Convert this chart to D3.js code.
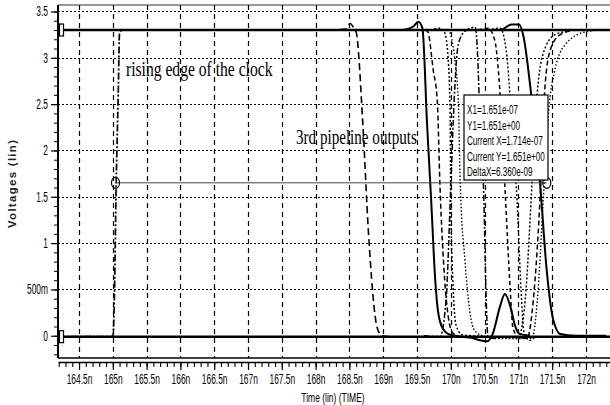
<!DOCTYPE html>
<html><head><meta charset="utf-8">
<script src="https://cdn.jsdelivr.net/npm/d3@7"></script>
<style>body{margin:0;background:#fff}svg{display:block}</style>
</head><body><svg id="c" width="610" height="405"></svg>
<script>
// ---------- data ----------
const xTicks = [164.5,165,165.5,166,166.5,167,167.5,168,168.5,169,169.5,170,170.5,171,171.5,172];
const xTickLabels = ["164.5n","165n","165.5n","166n","166.5n","167n","167.5n","168n","168.5n","169n","169.5n","170n","170.5n","171n","171.5n","172n"];
const yTicks = [0,0.5,1,1.5,2,2.5,3,3.5];
const yTickLabels = ["0","500m","1","1.5","2","2.5","3","3.5"];

// waveforms: [time (ns), voltage (V)]
const highLine = [[164.19,3.3],[172.4,3.3]];
const lowLine  = [[164.19,-0.01],[172.4,-0.01]];
const clock    = [[164.19,-0.01],[165.0,-0.01],[165.02,0.3],[165.05,1.65],[165.08,2.6],[165.1,3.27],[165.14,3.3]];
const outA = [[168.2,3.3],[168.45,3.31],[168.51,3.37],[168.56,3.33],[168.6,3.28],[168.7,2.27],[168.78,1.14],[168.91,0.09],[168.98,0.0],[169.1,-0.01]];
const outB = [[169.3,3.3],[169.45,3.34],[169.52,3.39],[169.58,3.32],[169.65,2.27],[169.71,1.46],[169.77,0.6],[169.81,0.27],[169.88,0.08],[169.99,0.01],[170.28,-0.02],[170.54,-0.06],[170.62,0.02],[170.73,0.32],[170.8,0.45],[170.88,0.32],[170.95,0.11],[171.02,0.02],[171.17,0.0]];
const outC1 = [[169.5,3.3],[169.62,3.3],[169.66,3.28],[169.74,2.87],[169.8,2.54],[169.84,1.62],[169.91,0.6],[169.96,0.22],[170.03,0.03],[170.14,-0.01],[171.0,-0.02],[171.13,-0.03],[171.22,0.38],[171.33,1.62],[171.39,2.65],[171.47,3.08],[171.62,3.25],[171.84,3.3]];
const outC2 = [[169.7,3.3],[169.84,3.32],[169.91,3.27],[169.96,3.0],[169.99,2.4],[170.0,1.46],[170.03,0.6],[170.08,0.11],[170.17,0.01],[170.6,-0.01],[171.0,-0.01],[171.1,0.38],[171.2,1.62],[171.27,2.54],[171.36,3.03],[171.54,3.25],[171.76,3.29]];
const outC3 = [[169.6,0.0],[169.84,-0.01],[169.93,0.38],[170.0,1.62],[170.05,2.54],[170.11,3.14],[170.2,3.28],[170.36,3.33],[170.4,2.98],[170.43,2.33],[170.49,1.46],[170.52,0.49],[170.55,-0.01],[170.65,-0.03],[170.8,-0.01]];
const outC4 = [[169.8,3.3],[169.96,3.3],[170.06,2.98],[170.11,2.54],[170.14,1.65],[170.21,0.81],[170.28,0.27],[170.36,0.05],[170.51,-0.01],[170.73,-0.03],[171.2,-0.03],[171.28,0.38],[171.38,1.62],[171.45,2.44],[171.54,2.87],[171.69,3.14],[171.99,3.28],[172.21,3.3]];
const outD = [[170.5,3.3],[170.73,3.3],[170.9,3.36],[171.01,3.36],[171.07,3.25],[171.19,2.6],[171.32,1.65],[171.42,0.7],[171.51,0.19],[171.62,0.02],[171.84,0.0],[172.3,0.0]];
const outF = [[170.4,3.3],[170.55,3.32],[170.65,3.19],[170.73,2.6],[170.8,1.62],[170.88,0.49],[170.92,0.08],[171.02,-0.02],[171.2,-0.01]];
const outG = [[170.55,3.3],[170.73,3.32],[170.82,3.08],[170.9,2.33],[170.98,1.46],[171.04,0.49],[171.08,0.05],[171.17,-0.05],[171.25,-0.02],[171.4,-0.01]];

const cursorY = 1.651, cursorX1 = 165.04, cursorX2 = 171.42;
const infoLines = ["X1=1.651e-07","Y1=1.651e+00","Current X=1.714e-07","Current Y=1.651e+00","DeltaX=6.360e-09"];

// ---------- drawing ----------
const svg = d3.select("#c");
const L = 58, R = 612, T = 5, B = 358;
const x = d3.scaleLinear().domain([164.189, 172.385]).range([L, R]);
const y = d3.scaleLinear().domain([-0.24, 3.57]).range([B, T]);
const SANS = "Liberation Sans, Arial, sans-serif";
const SERIF = "Liberation Serif, Times New Roman, serif";

svg.append("rect").attr("width",610).attr("height",405).attr("fill","#fff");
svg.append("defs").append("clipPath").attr("id","clip")
  .append("rect").attr("x",L).attr("y",T).attr("width",R-L).attr("height",B-T);

// grid
const grid = svg.append("g").attr("class","grid");
xTicks.forEach(t=>{
  const px = Math.round(x(t)) + 0.5;
  grid.append("line").attr("x1",px).attr("x2",px).attr("y1",T).attr("y2",B)
    .attr("stroke","#000").attr("stroke-width",1.2).attr("stroke-dasharray","5,4");
});
yTicks.forEach(v=>{
  const py = Math.round(y(v)) + 0.5;
  grid.append("line").attr("x1",L).attr("x2",R).attr("y1",py).attr("y2",py)
    .attr("stroke","#000").attr("stroke-width",1.2).attr("stroke-dasharray","2,2");
});

// waveforms
const lineGen = d3.line().x(d=>x(d[0])).y(d=>y(d[1])).curve(d3.curveMonotoneX);
const plot = svg.append("g").attr("clip-path","url(#clip)");
const series = [
  {d: outA,  w:1.6, dash:"7,4"},
  {d: outC1, w:1.5, dash:"5,3"},
  {d: outC2, w:1.5, dash:"2,2"},
  {d: outC3, w:1.5, dash:"6,2,2,2"},
  {d: outC4, w:1.4, dash:"1.5,2"},
  {d: outF,  w:1.5, dash:"4,3"},
  {d: outG,  w:1.4, dash:"2,2"},
  {d: clock, w:1.7, dash:"7,2,2,2"},
  {d: highLine, w:2.6, dash:null},
  {d: lowLine,  w:2.6, dash:null},
  {d: outB,  w:2.0, dash:null},
  {d: outD,  w:2.0, dash:null}
];
series.forEach(s=>{
  plot.append("path").attr("d",lineGen(s.d)).attr("fill","none")
    .attr("stroke","#000").attr("stroke-width",s.w)
    .attr("stroke-dasharray",s.dash);
});

// cursor
plot.append("line").attr("x1",x(cursorX1)).attr("x2",x(cursorX2))
  .attr("y1",y(cursorY)).attr("y2",y(cursorY)).attr("stroke","#444").attr("stroke-width",1);
[cursorX1,cursorX2].forEach(cx=>{
  plot.append("ellipse").attr("cx",x(cx)).attr("cy",y(cursorY)).attr("rx",4).attr("ry",5.5)
    .attr("fill","none").attr("stroke","#000").attr("stroke-width",1.2);
});
// start markers
[3.3,-0.01].forEach(v=>{
  plot.append("rect").attr("x",L+1.5).attr("y",y(v)-6).attr("width",4).attr("height",12)
    .attr("fill","#fff").attr("stroke","#000").attr("stroke-width",1.2);
});

// frame
svg.append("line").attr("x1",L).attr("x2",L).attr("y1",T).attr("y2",B).attr("stroke","#000").attr("stroke-width",2);
svg.append("line").attr("x1",L).attr("x2",R).attr("y1",T).attr("y2",T).attr("stroke","#333").attr("stroke-width",1.2);
svg.append("line").attr("x1",L).attr("x2",R).attr("y1",B).attr("y2",B).attr("stroke","#000").attr("stroke-width",1.5);

// x axis ruler
const SX = 0.6;
const xMinor = d3.range(1642,1724).map(v=>v/10);
svg.append("g").attr("transform","translate(0,362)")
  .call(d3.axisBottom(x).tickValues(xMinor).tickSize(5).tickFormat(""))
  .call(g=>g.select(".domain").remove())
  .selectAll("line").attr("stroke","#000").attr("stroke-width",1.1);
const xa = svg.append("g").attr("transform","translate(0,362)")
  .call(d3.axisBottom(x).tickValues(xTicks).tickSize(8).tickSizeOuter(0).tickPadding(4).tickFormat((d,i)=>xTickLabels[i]));
xa.select(".domain").attr("stroke","#000").attr("stroke-width",1.5);
xa.selectAll("line").attr("stroke","#000").attr("stroke-width",1.2);
xa.selectAll("text").attr("font-family",SANS).attr("font-size",14).attr("fill","#000")
  .attr("transform",`scale(${SX},1)`);

// y axis
svg.append("g").attr("transform",`translate(${L},0)`)
  .call(d3.axisLeft(y).tickValues(d3.range(-2,36).map(v=>v/10)).tickSize(4).tickFormat(""))
  .call(g=>g.select(".domain").remove())
  .selectAll("line").attr("stroke","#000");
const ya = svg.append("g").attr("transform",`translate(${L},0)`)
  .call(d3.axisLeft(y).tickValues(yTicks).tickSize(7).tickPadding(3).tickFormat((d,i)=>yTickLabels[i]));
ya.select(".domain").remove();
ya.selectAll("line").attr("stroke","#000").attr("stroke-width",1.2);
ya.selectAll("text").attr("font-family",SANS).attr("font-size",14).attr("fill","#000")
  .attr("x",-10/SX).attr("transform",`scale(${SX},1)`);

// axis titles
svg.append("text").attr("x",333/0.68).attr("y",402).attr("transform","scale(0.68,1)")
  .attr("text-anchor","middle").attr("font-family",SANS)
  .attr("font-size",12.5).attr("fill","#000").text("Time (lin) (TIME)");
svg.append("text").attr("transform","translate(16,184) rotate(-90)")
  .attr("text-anchor","middle").attr("font-family",SANS)
  .attr("font-size",11.5).attr("font-weight","bold").attr("fill","#222")
  .attr("textLength",88).attr("lengthAdjust","spacing").text("Voltages (lin)");

// annotations
svg.append("text").attr("x",126/0.71).attr("y",76).attr("transform","scale(0.71,1)").attr("font-family",SERIF)
  .attr("font-size",22).attr("fill","#000").text("rising edge of the clock");
svg.append("text").attr("x",296/0.72).attr("y",144).attr("transform","scale(0.72,1)").attr("font-family",SERIF)
  .attr("font-size",21).attr("fill","#000").text("3rd pipeline outputs");

// info box
const box = svg.append("g");
box.append("rect").attr("x",464).attr("y",95).attr("width",84).attr("height",85)
  .attr("fill","#fff").attr("stroke","#000").attr("stroke-width",1.2);
infoLines.forEach((t,i)=>{
  box.append("text").attr("x",467/0.6).attr("y",114.5+i*15.5).attr("transform","scale(0.6,1)")
    .attr("font-family",SANS).attr("font-size",13.5).attr("fill","#000").text(t);
});
</script></body></html>
